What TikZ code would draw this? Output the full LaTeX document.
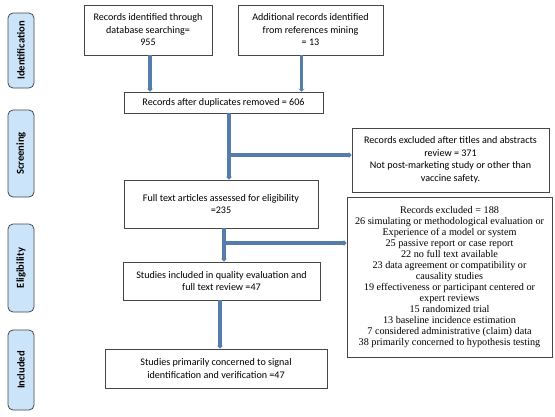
\documentclass[tikz,border=0pt]{standalone}
\usepackage{fontspec}
\setmainfont{Carlito}
\newfontfamily\timesfont{Liberation Serif}
\usetikzlibrary{arrows.meta}
\usetikzlibrary{calc}
\definecolor{flowblue}{RGB}{84,125,172}
\definecolor{phasefill}{RGB}{204,228,250}
\definecolor{boxline}{RGB}{70,70,70}
\tikzset{
 recbox/.style={draw=boxline, line width=0.8pt, align=center, font=\fontsize{10.1}{12.5}\selectfont, inner sep=2pt},
 phasebox/.style={draw=boxline, fill=phasefill, line width=0.8pt, rounded corners=5pt, rotate=90, minimum height=26pt, font=\fontsize{10.6}{11}\selectfont\bfseries},
 flow/.style={flowblue, line width=3.5pt, -{Stealth[length=3pt,width=6pt]}}
}
\begin{document}
\begin{tikzpicture}[x=1pt,y=-1pt]
\useasboundingbox (0,0) rectangle (555,416);
% phases
\node[phasebox, minimum width=75pt] (idf) at (21,50.5) {Identification};
\node[phasebox, minimum width=87pt] (scr) at (21,153.5) {Screening};
\node[phasebox, minimum width=88pt] (elg) at (21,268) {Eligibility};
\node[phasebox, minimum width=80pt] (inc) at (21,370) {Included};
% main column
\node[recbox, minimum width=128pt, minimum height=50pt] (dbase) at (148,30) {Records identified through\\database searching=\\955};
\node[recbox, minimum width=145pt, minimum height=50pt] (mining) at (310.5,30) {Additional records identified\\from references mining\\= 13};
\node[recbox, minimum width=199pt, minimum height=21pt] (dupl) at (223.5,102.5) {Records after duplicates removed = 606};
\node[recbox, minimum width=194pt, minimum height=48pt] (fulltxt) at (221,204) {Full text articles assessed for eligibility\\=235};
\node[recbox, minimum width=197pt, minimum height=38pt] (quality) at (221.5,281) {Studies included in quality evaluation and\\full text review =47};
\node[recbox, minimum width=222pt, minimum height=39pt] (signal) at (216,368.5) {Studies primarily concerned to signal\\identification and verification =47};
% exclusions
\node[recbox, minimum width=197pt, minimum height=64pt] (excla) at (450.5,160) {Records excluded after titles and abstracts\\review = 371\\Not post-marketing study or other than\\vaccine safety.};
\node[recbox, minimum width=205pt, minimum height=160pt, font=\timesfont\fontsize{10.2}{11}\selectfont] (exclb) at (449.5,277) {Records excluded = 188\\26 simulating or methodological evaluation or\\Experience of a model or system\\25 passive report or case report\\22 no full text available\\23 data agreement or compatibility or\\causality studies\\19 effectiveness or participant centered or\\expert reviews\\15 randomized trial\\13 baseline incidence estimation\\7 considered administrative (claim) data\\38 primarily concerned to hypothesis testing};
% arrows
\draw[flow] ([xshift=2]dbase.south) -- ([xshift=2]dbase.south |- dupl.north);
\draw[flow] ([xshift=-9]mining.south) -- ([xshift=-9]mining.south |- dupl.north);
\draw[flow] ([xshift=5.5]dupl.south) -- ([xshift=5.5]dupl.south |- fulltxt.north);
\coordinate (j1) at ([xshift=5.5]dupl.south |- 0,155);
\draw[flow] ([xshift=-1.75]j1) -- (j1 -| excla.west);
\draw[flow] ([xshift=3]fulltxt.south) -- ([xshift=3]fulltxt.south |- quality.north);
\coordinate (j2) at ([xshift=3]fulltxt.south |- 0,243);
\draw[flow] ([xshift=-1.75]j2) -- (j2 -| exclb.west);
\draw[flow] ([xshift=-1.5]quality.south) -- ([xshift=-1.5]quality.south |- signal.north);
\end{tikzpicture}
\end{document}
